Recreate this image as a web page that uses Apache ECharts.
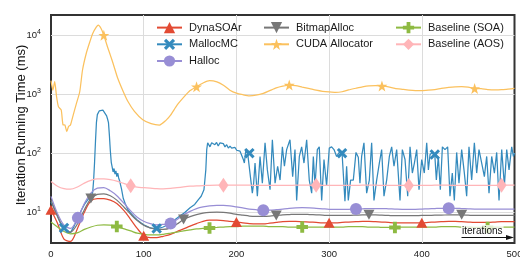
<!DOCTYPE html>
<html><head><meta charset="utf-8">
<script src="https://cdn.jsdelivr.net/npm/echarts@6/dist/echarts.min.js"></script>
<style>html,body{margin:0;padding:0;background:#fff}#c{width:520px;height:259px}</style>
</head><body><div id="c"></div>
<script>
// ---- data ----
const ITER = [0,7,14,21,29,36,43,50,57,64,71,79,86,93,100,
  107,114,121,129,136,143,150,157,164,171,179,186,193,200,
  207,214,221,229,236,243,250,257,264,271,279,286,293,300,
  307,314,321,329,336,343,350,357,364,371,379,386,393,400,
  407,414,421,429,436,443,450,457,464,471,479,486,493,500];

const DYNASOAR = [11,6.5,3.5,3.2,5.5,10,15.5,17,17,16,14,10.5,7.5,5.3,4.0,
  3.7,3.7,3.9,4.2,4.7,5.2,5.8,6.4,7.0,7.3,7.3,7.2,7.0,6.8,
  6.6,6.4,6.3,6.3,6.5,6.7,6.9,7.0,7.0,6.9,6.8,6.7,6.6,6.6,
  6.6,6.7,6.8,6.9,7.0,7.0,6.9,6.8,6.7,6.6,6.6,6.6,6.6,6.6,
  6.7,6.8,6.9,7.0,7.0,6.9,6.8,6.7,6.7,6.7,6.8,6.9,6.9,6.9];

const HALLOC = [18.5,9.5,6.0,5.3,8.0,14,21,25.5,26,23,19,14,10.5,8.2,7.0,
  6.4,6.1,6.2,6.4,7.5,9.0,10.3,11.5,12.3,12.8,13.0,13.0,12.8,12.3,
  11.8,11.3,11.0,10.8,10.8,11.0,11.3,11.6,11.8,11.9,11.8,11.6,11.4,11.2,
  11.1,11.1,11.2,11.3,11.4,11.5,11.5,11.5,11.4,11.3,11.2,11.2,11.2,11.3,
  11.4,11.5,11.6,11.6,11.6,11.5,11.4,11.3,11.3,11.3,11.3,11.3,11.3,11.3];

const BITMAPALLOC = [16,8.5,5.3,4.6,6.5,11,17,20,20.5,19,16,12,9.2,7.2,6.0,
  5.4,5.1,5.1,5.4,6.3,7.5,8.4,9.1,9.6,9.9,10.0,9.9,9.6,9.2,
  8.9,8.6,8.5,8.5,8.6,8.8,9.0,9.1,9.2,9.2,9.1,9.0,8.9,8.8,
  8.8,8.8,8.8,8.9,9.0,9.0,9.0,8.9,8.8,8.7,8.7,8.7,8.7,8.8,
  8.8,8.9,8.9,9.0,9.0,9.0,8.9,8.8,8.8,8.8,8.8,8.8,8.8,8.8];

const BASELINE_SOA = [6.8,5.6,4.7,4.3,4.5,5.1,5.6,6.0,6.1,6.0,5.7,5.2,4.8,4.4,4.2,
  4.1,4.1,4.2,4.4,4.6,4.8,5.0,5.2,5.3,5.4,5.5,5.6,5.7,5.7,
  5.8,5.8,5.8,5.8,5.7,5.7,5.7,5.6,5.6,5.6,5.6,5.6,5.6,5.6,
  5.6,5.6,5.7,5.7,5.7,5.6,5.6,5.5,5.5,5.5,5.6,5.6,5.6,5.6,
  5.6,5.6,5.7,5.7,5.7,5.6,5.6,5.5,5.5,5.5,5.6,5.6,5.6,5.6];

const BASELINE_AOS = [33,27.5,25,24.5,27,31,34.5,36.5,36.5,35.5,33.5,30.5,28,26.5,26,
  25.5,25,24.8,25.2,26,26.8,27.5,28,28.3,28.5,28.6,28.6,28.6,28.6,
  28.6,28.6,28.5,28.4,28.4,28.4,28.5,28.5,28.6,28.6,28.6,28.5,28.5,28.4,
  28.4,28.4,28.5,28.5,28.6,28.6,28.6,28.5,28.5,28.4,28.4,28.4,28.5,28.5,
  28.5,28.6,28.6,28.6,28.5,28.5,28.4,28.4,28.4,28.5,28.5,28.6,28.6,28.6];

const CUDA_ITER = [0,2,4,6,8,11,13,15,17,19,21,24,27,31,34,38,42,45,49,51,
  54,57,61,64,67,72,78,83,90,99,108,117,124,129,136,143,150,157,164,171,
  179,186,193,200,207,214,221,229,236,243,250,257,264,271,279,286,293,300,307,314,
  321,329,336,343,350,357,364,371,379,386,393,400,407,414,421,429,436,443,450,457,
  464,471,479,486,493,500];
const CUDA_ALLOCATOR = [1700,1170,1630,910,615,540,302,300,233,285,300,446,660,1100,2570,4900,7800,10700,13800,14800,
  13000,10000,6300,4600,3320,1860,1100,750,510,368,316,300,360,440,650,880,1150,1340,1550,1700,
  1620,1420,1170,1040,980,940,960,1030,1150,1280,1370,1430,1400,1320,1240,1170,1120,1090,1070,1100,
  1180,1260,1330,1380,1390,1380,1330,1260,1210,1170,1150,1150,1170,1200,1250,1300,1330,1340,1320,1250,
  1240,1200,1180,1190,1220,1250];

const MALLOC_ITER = [0,4,7,10,14,18,21,25,29,33,36,40,43,45,46,47,48,49,50,52,
  54,56,58,60,61,62,63,64,65,66,67,68,69,70,71,72,73,74,76,78,
  80,83,86,90,93,97,100,104,107,111,114,118,121,125,129,134,139,144,150,155,
  159,162,164,165,166,167,168,169,170,
  171.5,173.3,175,176.8,178.6,180.4,182.3,184,185.9,187.7,
  189.5,191.3,193.1,194.9,196.7,198.5,200.3,202.1,203.9,205.7,
  207.5,208.6,210,212.2,214,217.2,218.6,220.1,222.6,225.5,
  228,230.9,233.4,236.3,238.8,241.7,244.5,247.1,249.6,251.8,
  254.2,257.8,260.7,263.2,265,267.9,270.4,272.9,275.8,278.6,
  281.2,283,284.8,287.3,289.4,292,294.5,297.3,300.2,302.7,
  305.3,308.1,311,314,317.1,318.9,320.7,323.2,326.1,329,
  331.5,333.3,335.1,337.6,340.5,343.4,345.9,348.4,351.3,354.2,
  356.7,359.2,362.1,365,367.5,370,372.9,376.5,379,381.9,
  384.8,387.3,389.8,392,394.5,397,399.9,402.7,405.3,407.1,
  408.9,411.4,414,415.7,417.8,420,422.2,425,427.9,430.4,
  432.9,435.1,437.6,440.1,443,445.9,448.4,450.9,453.8,456.7,
  459.2,461.7,464.6,467.5,470,472.5,475.4,478.3,480.8,483.3,
  486.2,489.1,491.6,494.1,497,498.8,500];
const MALLOCMC = [15,11,8.5,6.6,5.4,4.6,4.5,5.8,8,11,13.5,16.5,18,22,35,70,160,330,450,520,
  540,535,510,430,380,330,200,110,70,58,48,55,44,50,40,46,38,34,25,17,
  14,11,9.6,8.2,7.4,6.6,6.1,5.7,5.4,5.3,5.3,5.4,5.6,6.0,6.6,7.5,8.6,9.8,11.9,13.5,
  16.3,18.6,20,24,35,52,115,150,158,
  128,150,158,139,152,132,150,139,145,128,
  139,122,132,122,115,125,112,118,108,115,
  78,68,108,98,100,21,31,68,18.6,88,
  31,150,52,24,169,31,60,35,128,60,
  115,169,40,115,15.8,88,128,68,169,35,
  21,88,28,115,128,15.8,78,28,122,128,
  115,88,103,100,15.3,60,15.8,35,35,103,
  85,31,88,150,21,35,150,15.8,35,68,
  115,18.6,35,88,128,60,115,15.8,115,78,
  18.6,128,46,68,115,24,78,46,150,52,
  95,103,95,35,88,24,128,115,128,18.6,
  46,15.8,103,31,115,46,18.6,128,35,150,
  46,115,68,40,88,21,88,46,103,15.8,
  115,28,115,52,128,88,100];

const X_TICKS = [0,100,200,300,400,500];

// marker iterations (markevery) per series
const MARK_DYNA = [0,100,200,300,400];
const MARK_MALLOC = [14,114,214,314,414];
const MARK_HALLOC = [29,129,229,329,429];
const MARK_BITMAP = [43,143,243,343,443];
const MARK_CUDA = [57,157,257,357,457];
const MARK_SOA = [71,171,271,371,471];
const MARK_AOS = [86,186,286,386,486];

// ---- styling ----
const FONT = '"Liberation Sans", Arial, Helvetica, sans-serif';
const TXT = '#1a1a1a';
const SYM = {
  star: 'path://M50,0 L61.8,35.1 L97.6,34.5 L68.8,56.7 L79.4,90.5 L50,70 L20.6,90.5 L31.2,56.7 L2.4,34.5 L38.2,35.1 Z',
  x: 'path://M0,20 L20,0 L50,30 L80,0 L100,20 L70,50 L100,80 L80,100 L50,70 L20,100 L0,80 L30,50 Z',
  plus: 'path://M33,0 L67,0 L67,33 L100,33 L100,67 L67,67 L67,100 L33,100 L33,67 L0,67 L0,33 L33,33 Z',
  itri: 'path://M0,0 L100,0 L50,100 Z'
};

function mkSeries(name, iters, vals, color, symbol, size, marks, smooth) {
  const data = iters.map((x, i) => marks.indexOf(x) >= 0
    ? { value: [x, vals[i]] }
    : { value: [x, vals[i]], symbol: 'none' });
  return {
    name, type: 'line', data, symbol, symbolSize: size,
    showSymbol: true, showAllSymbol: true, smooth: smooth,
    lineStyle: { color, width: 1.25 },
    itemStyle: { color, borderWidth: 0 },
    emphasis: { disabled: true }, silent: true, animation: false
  };
}

const series = [
  mkSeries('DynaSOAr', ITER, DYNASOAR, '#E24A33', 'triangle', [11, 10], MARK_DYNA, 0.3),
  mkSeries('MallocMC', MALLOC_ITER, MALLOCMC, '#348ABD', SYM.x, 10.5, MARK_MALLOC, false),
  mkSeries('Halloc', ITER, HALLOC, '#988ED5', 'circle', 12, MARK_HALLOC, 0.3),
  mkSeries('BitmapAlloc', ITER, BITMAPALLOC, '#777777', SYM.itri, [11, 10], MARK_BITMAP, 0.3),
  mkSeries('CUDA Allocator', CUDA_ITER, CUDA_ALLOCATOR, '#FBC15E', SYM.star, 11, MARK_CUDA, 0.2),
  mkSeries('Baseline (SOA)', ITER, BASELINE_SOA, '#8EBA42', SYM.plus, 11.5, MARK_SOA, 0.3),
  mkSeries('Baseline (AOS)', ITER, BASELINE_AOS, '#FFB5B8', 'diamond', [10, 15], MARK_AOS, 0.3)
];

function legend(names, left) {
  return {
    data: names, orient: 'vertical', left: left, top: 22, padding: 0,
    itemWidth: 25, itemHeight: 14, itemGap: 5.5, selectedMode: false,
    textStyle: { fontSize: 11, color: TXT, fontFamily: FONT, padding: [0, 0, 0, 2] }
  };
}

const chart = echarts.init(document.getElementById('c'), null, { renderer: 'canvas' });
chart.setOption({
  backgroundColor: '#fff',
  animation: false,
  grid: { left: 51, top: 15, width: 463.5, height: 228, show: true,
          borderColor: '#333', borderWidth: 2, backgroundColor: '#fff',
          containLabel: false, outerBoundsMode: 'none' },
  legend: [
    legend(['DynaSOAr', 'MallocMC', 'Halloc'], 156),
    legend(['BitmapAlloc', 'CUDA Allocator'], 263),
    legend(['Baseline (SOA)', 'Baseline (AOS)'], 395)
  ],
  xAxis: {
    type: 'value', min: X_TICKS[0], max: X_TICKS[X_TICKS.length - 1], interval: 100,
    axisLine: { show: false }, axisTick: { show: false },
    splitLine: { show: true, showMinLine: false, showMaxLine: false, lineStyle: { color: '#dcdcdc', width: 1 } },
    axisLabel: { fontSize: 9.5, color: TXT, fontFamily: FONT, margin: 6, showMaxLabel: true, hideOverlap: false }
  },
  yAxis: {
    type: 'log', logBase: 10, min: 3, max: 22000,
    axisLine: { show: false }, axisTick: { show: false },
    splitLine: { show: true, showMinLine: false, showMaxLine: false, lineStyle: { color: '#dcdcdc', width: 1 } },
    axisLabel: {
      showMinLabel: false, showMaxLabel: false, margin: 10,
      formatter: v => '{b|10}{s|' + Math.round(Math.log10(v)) + '}',
      rich: {
        b: { fontSize: 9.5, color: TXT, fontFamily: FONT, lineHeight: 14 },
        s: { fontSize: 7, color: TXT, fontFamily: FONT, lineHeight: 8, verticalAlign: 'top' }
      }
    },
    name: 'Iteration Running Time (ms)', nameLocation: 'middle', nameGap: 23,
    nameMoveOverlap: false,
    nameTextStyle: { fontSize: 13, color: '#111', fontFamily: FONT, padding: [0, 0, 0, 8] }
  },
  graphic: [
    { type: 'text', left: 461, top: 225, z: 50,
      style: { text: 'iterations', fontSize: 10, fill: '#111', fontFamily: FONT,
               backgroundColor: 'rgba(255,255,255,0.75)', padding: [1, 1, 1, 1] } },
    { type: 'line', z: 50, shape: { x1: 461.5, y1: 237.5, x2: 508, y2: 237.5 },
      style: { stroke: '#111', lineWidth: 1 } },
    { type: 'polygon', z: 50, shape: { points: [[506, 235], [514, 237.5], [506, 240]] },
      style: { fill: '#111' } }
  ],
  series: series
});
</script></body></html>
